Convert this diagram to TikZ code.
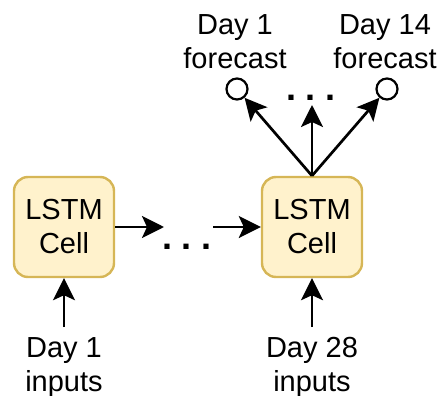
\documentclass[tikz,border=0pt]{standalone}
\usepackage{fontspec}
\setmainfont{Liberation Sans}
\usetikzlibrary{arrows.meta}
\definecolor{cellfill}{HTML}{FFF2CC}
\definecolor{celldraw}{HTML}{D6B656}
\begin{document}
\begin{tikzpicture}[x=1pt,y=-1pt,
  every node/.style={font=\fontsize{29}{34}\selectfont, inner sep=0pt, align=center},
  cell/.style={draw=celldraw, fill=cellfill, line width=2.4pt, rounded corners=14pt,
    minimum width=100pt, minimum height=100pt},
  flow/.style={line width=2.7pt, -{Stealth[length=22pt, width=22pt, inset=5pt]}},
  outcircle/.style={circle, draw, line width=2.2pt, minimum size=21pt},
  dots/.style={font=\fontsize{36}{40}\selectfont\bfseries}]
\useasboundingbox (0,0) rectangle (439,396);

% LSTM cells
\node[cell] (c1) at (64,227) {LSTM\\Cell};
\node[cell] (c2) at (312,227) {LSTM\\Cell};

% horizontal chain with ellipsis
\node[dots, anchor=base] (hd) at (187,249) {.\hspace{9.5pt}.\hspace{9.5pt}.};
\coordinate (h1) at (164,227);
\coordinate (h2) at (213,227);
\draw[flow] (c1.east) -- (h1);
\draw[flow] (h2) -- (c2.west);

% inputs (anchor=base sits on the last line)
\node[anchor=base] (in1) at (64,391) {Day 1\\inputs};
\node[anchor=base] (in2) at (312,391) {Day 28\\inputs};
\coordinate (i1) at (64,327);
\coordinate (i2) at (312,327);
\draw[flow] (i1) -- (c1.south);
\draw[flow] (i2) -- (c2.south);

% outputs
\node[outcircle] (o1) at (237,89) {};
\node[outcircle] (o2) at (387,89) {};
\node[dots, anchor=base] (od) at (311,100) {.\hspace{9.5pt}.\hspace{9.5pt}.};
\coordinate (om) at (312,105);
\node[anchor=base] (f1) at (235,68) {Day 1\\forecast};
\node[anchor=base] (f2) at (385,68) {Day 14\\forecast};
\draw[flow] (c2.north) -- (o1);
\draw[flow] (c2.north) -- (om);
\draw[flow] (c2.north) -- (o2);
\end{tikzpicture}
\end{document}
